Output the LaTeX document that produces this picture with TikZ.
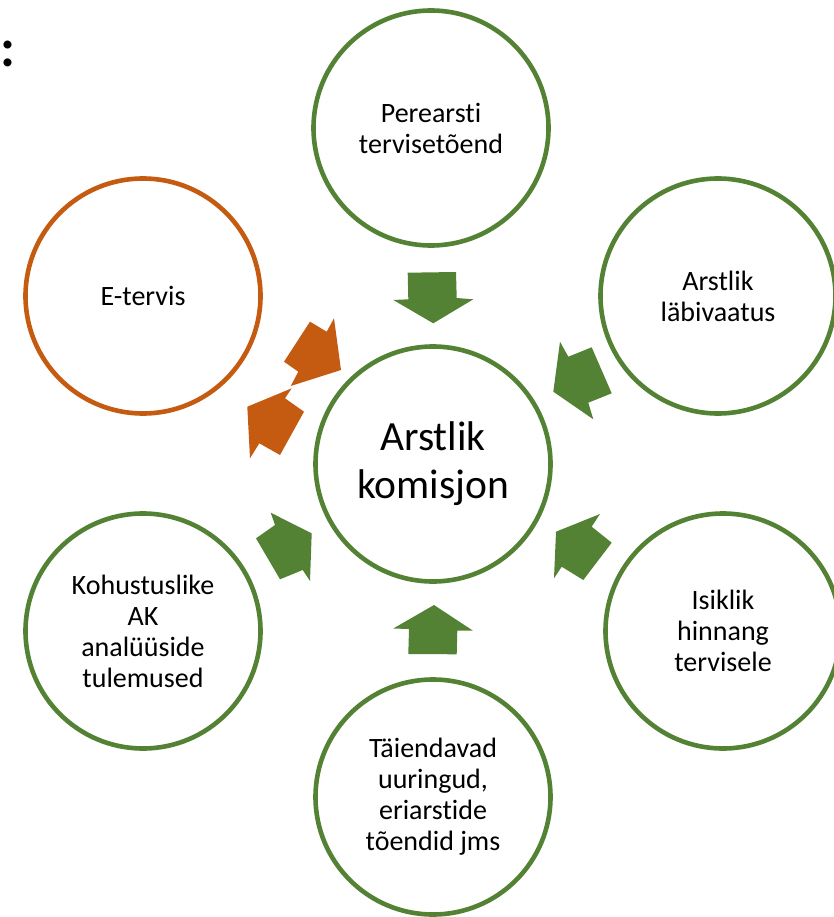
\documentclass[tikz,border=0pt]{standalone}
\usepackage{fontspec}
\setmainfont{Carlito}[Ligatures={NoCommon}]
\definecolor{agreen}{HTML}{548235}
\definecolor{aorange}{HTML}{C55A11}
\begin{document}
\begin{tikzpicture}[x=1pt,y=-1pt,
  ring/.style={circle, draw=agreen, line width=4.6pt, minimum size=235pt, inner sep=0pt,
    align=center, fill=white, text=black, font=\fontsize{28}{31}\selectfont},
  oring/.style={ring, draw=aorange},
  garrow/.style={fill=agreen, draw=none},
  oarrow/.style={fill=aorange, draw=none}]
\useasboundingbox (0,0) rectangle (833,917);

% circles
\node[ring] (top) at (431,128) {Perearsti\\tervisetõend};
\node[ring] (ur) at (718,296) {Arstlik\\läbivaatus};
\node[ring] (lr) at (723,631) {Isiklik\\hinnang\\tervisele};
\node[ring] (bot) at (433,797) {Täiendavad\\uuringud,\\eriarstide\\tõendid jms};
\node[ring] (ll) at (143,631) {Kohustuslike\\AK\\analüüside\\tulemused};
\node[oring] (et) at (143,296) {E-tervis};
\node[ring, font=\fontsize{41.5}{48}\selectfont] (center) at (433,464) {Arstlik\\komisjon};

% green block arrows
\fill[garrow] (407.7,272.7) -- (456,272) -- (456.7,298) -- (473.3,299.3) -- (433.3,323.3) -- (393.3,300) -- (408.3,299.3) -- cycle;
\fill[garrow] (434,605) -- (472.7,630.5) -- (457.3,630.5) -- (456.7,654.3) -- (408.3,654) -- (409,629) -- (393.3,628.5) -- cycle;
\fill[garrow] (560,341.7) -- (568.3,356.7) -- (591.7,347.3) -- (611.7,393.3) -- (588.3,402.7) -- (593.3,419.3) -- (553.3,391.7) -- cycle;
\fill[garrow] (600,514) -- (591.7,526.7) -- (611.7,542.7) -- (583.3,580) -- (561.7,566.7) -- (554,578.3) -- (556,531.7) -- cycle;
\fill[garrow] (270.7,512.7) -- (275,525) -- (256,538.3) -- (280,579.3) -- (302.7,570) -- (310,581) -- (311.7,533.3) -- cycle;

% orange arrows
\fill[oarrow] (310,321.7) -- (326.7,331.7) -- (334,318.3) -- (341,370) -- (290.7,386) -- (298.3,371.7) -- (284,361.7) -- cycle;
\fill[oarrow] (247.3,406.7) -- (291.7,388.3) -- (285,398.3) -- (304,411.7) -- (280,455) -- (259.3,443.3) -- (250,458.3) -- cycle;

% stray colon at top left
\node[font=\bfseries\fontsize{54}{54}\selectfont, anchor=base, inner sep=0pt] (colon) at (7.5,66.5) {:};
\end{tikzpicture}
\end{document}
